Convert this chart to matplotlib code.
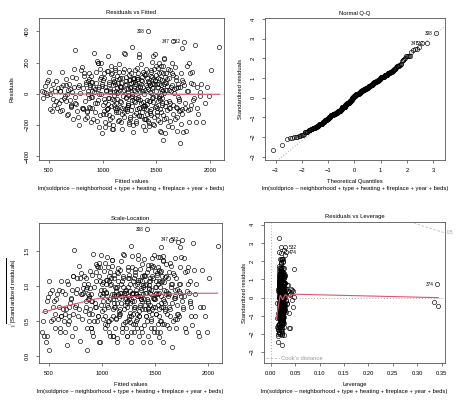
import numpy as np
import matplotlib.pyplot as plt
from statistics import NormalDist

plt.rcParams['font.family'] = ['Liberation Sans', 'DejaVu Sans']
plt.rcParams['mathtext.fontset'] = 'custom'
plt.rcParams['mathtext.rm'] = 'Liberation Sans'

# fitted values of the model (one row of 25 per line)
fitted = [
    438, 445, 452, 460, 470, 478, 485, 492, 500, 505, 512, 520, 528, 535, 540, 548, 555, 560, 568, 575, 582, 590, 598, 605, 615,
    602, 610, 618, 625, 633, 640, 648, 655, 662, 670, 678, 685, 693, 700, 708, 715, 722, 730, 738, 745, 752, 760, 770, 782, 795,
    655, 668, 680, 692, 705, 718, 730, 742, 755, 768, 780, 792, 805, 815, 825, 835, 845, 852, 860, 868, 875, 882, 890, 895, 900,
    805, 812, 820, 830, 838, 846, 855, 862, 870, 878, 886, 895, 903, 910, 918, 925, 932, 940, 948, 955, 962, 970, 978, 985, 995,
    852, 865, 876, 888, 898, 908, 918, 928, 938, 948, 958, 968, 978, 988, 998, 1005, 1012, 1020, 1028, 1035, 1042, 1048, 1052, 1056, 1060,
    952, 960, 972, 985, 995, 1002, 1010, 1018, 1025, 1032, 1040, 1050, 1058, 1065, 1072, 1080, 1088, 1095, 1102, 1110, 1118, 1125, 1132, 1140, 1148,
    1003, 1015, 1026, 1038, 1047, 1055, 1062, 1070, 1078, 1085, 1093, 1100, 1108, 1115, 1122, 1130, 1138, 1145, 1152, 1160, 1168, 1175, 1183, 1190, 1198,
    1052, 1064, 1076, 1088, 1098, 1108, 1118, 1128, 1136, 1144, 1152, 1160, 1168, 1176, 1184, 1192, 1200, 1208, 1216, 1224, 1232, 1238, 1244, 1248, 1252,
    1102, 1112, 1122, 1132, 1142, 1150, 1158, 1166, 1174, 1182, 1190, 1198, 1206, 1214, 1222, 1230, 1238, 1246, 1254, 1262, 1270, 1278, 1286, 1294, 1300,
    1202, 1208, 1214, 1220, 1226, 1232, 1238, 1244, 1250, 1256, 1262, 1268, 1274, 1280, 1286, 1292, 1298, 1304, 1310, 1316, 1322, 1328, 1334, 1340, 1346,
    1252, 1258, 1265, 1271, 1277, 1283, 1289, 1295, 1301, 1307, 1313, 1319, 1325, 1331, 1337, 1343, 1349, 1355, 1361, 1367, 1373, 1379, 1385, 1391, 1397,
    1302, 1308, 1315, 1322, 1328, 1335, 1341, 1348, 1355, 1362, 1368, 1375, 1382, 1388, 1395, 1402, 1408, 1415, 1421, 1425, 1432, 1438, 1444, 1448, 1450,
    1352, 1358, 1364, 1370, 1376, 1382, 1388, 1394, 1400, 1406, 1412, 1418, 1424, 1430, 1436, 1442, 1448, 1454, 1460, 1466, 1472, 1478, 1484, 1490, 1496,
    1402, 1409, 1416, 1423, 1430, 1437, 1444, 1451, 1458, 1465, 1472, 1479, 1486, 1493, 1500, 1507, 1514, 1521, 1528, 1535, 1540, 1545, 1548, 1550, 1553,
    1452, 1458, 1464, 1470, 1476, 1482, 1488, 1494, 1500, 1506, 1512, 1518, 1524, 1530, 1536, 1542, 1548, 1554, 1560, 1566, 1572, 1578, 1584, 1590, 1596,
    1503, 1510, 1517, 1524, 1531, 1538, 1545, 1552, 1559, 1566, 1573, 1580, 1587, 1594, 1601, 1608, 1615, 1622, 1629, 1636, 1643, 1650, 1655, 1645, 1620,
    1552, 1560, 1568, 1576, 1584, 1592, 1600, 1608, 1616, 1624, 1632, 1640, 1648, 1656, 1664, 1672, 1680, 1688, 1696, 1704, 1712, 1720, 1728, 1736, 1744,
    1652, 1660, 1668, 1676, 1684, 1692, 1700, 1708, 1716, 1724, 1732, 1740, 1748, 1755, 1762, 1770, 1778, 1786, 1794, 1802, 1810, 1818, 1826, 1834, 1842,
    1705, 1722, 1738, 1752, 1768, 1785, 1800, 1815, 1828, 1840, 1852, 1860, 1868, 1876, 1890, 1905, 1920, 1940, 1955, 1970, 1990, 2010, 1912, 2090, 1880,
    905, 1012, 1165, 1235, 1318, 1372, 1456, 1512, 1588, 1632, 1688, 945, 1090, 1198, 1286, 1342, 1398, 1470, 1532, 1575, 1690, 1110, 1260, 1430, 1540,
]

# raw residuals, same order
resid = [
    15, -30, 10, 50, 5, 75, -10, 85, 140, 1, -100, 30, -110, 60, -35, -75, 20, -45, 80, -95, 35, -60, -110, 15, 40,
    20, -40, 140, -105, 55, -30, -15, 95, 55, -140, 25, 60, -40, -70, -80, 110, -160, 45, 280, -20, -65, -110, 40, -200, 150,
    -45, -3, -130, 30, -85, 10, 160, -60, 100, -150, 55, 6, 170, -95, 115, -160, 60, -110, 20, 130, -85, 45, -180, 75, -20,
    -95, 35, -100, 130, -50, 75, -120, -1, 95, -90, 55, -20, 75, -165, 260, 30, -60, 140, -175, 200, 40, -215, 95, 195, -255,
    -150, 80, -30, 115, -95, 45, 10, -120, 70, -60, 195, -5, -140, 110, 50, -75, 135, -180, 25, -130, -100, 145, 245, -30, -195,
    30, -40, 160, -5, 65, -130, 100, -55, -215, 20, 145, -90, 60, -160, 10, 125, -35, -200, 80, -70, 150, -120, 35, -175, 95,
    90, -110, 40, -100, -25, 75, -140, 15, -80, 130, -230, 55, -10, 165, -60, 115, 5, -120, 190, -45, -185, 70, -90, 140, 25,
    -65, 30, 175, -150, 95, -40, 60, -105, -90, 8, 140, -85, 45, -225, 100, -15, -150, 255, 65, -110, 30, -60, 150, -195, 85,
    10, -95, 20, -35, 70, -170, 40, 100, -55, -130, 20, 160, -100, 80, -20, -100, -75, 120, -165, 45, 302, -40, 95, -140, 60,
    -120, 55, 105, -30, -85, -70, 10, -185, 90, 40, -105, 130, -15, -200, 75, 100, -55, 15, -125, 165, 95, -35, 130, -90, 50,
    35, -150, 70, -5, -80, 100, 25, -45, 150, -175, 60, -100, 95, -20, 255, -135, 40, -60, 190, 80, -210, 15, -95, 120, -160,
    75, -25, -190, 30, 45, -90, -145, 10, -145, 65, 110, -55, -160, 125, 25, -100, 160, -40, 80, 400, -190, 55, -125, 140, 5,
    -40, 90, -115, 20, 140, -75, -5, -80, -165, 55, -130, 100, 30, -205, 70, -50, 115, -100, 205, -20, 45, -150, 85, 255, -80,
    125, -65, 40, -175, 75, 10, -110, 150, -30, 95, -195, 60, -85, 20, 180, -140, 100, -15, 130, -100, 55, -245, 175, 15, -60,
    -140, 110, 35, -55, 160, -200, 80, -15, 120, -95, 45, -170, 195, 65, -40, 140, -120, 90, -295, 25, 225, -80, 110, -155, 50,
    60, -120, 165, -25, 95, -185, 30, -70, 180, -140, 5, -250, 135, 70, -105, 160, -45, 100, -175, 20, -215, 130, 336, 55, -90,
    -30, 135, -160, 60, 75, -55, 95, -210, 25, 150, -95, 40, 200, -130, 2, 170, -85, 110, -150, 65, -35, -320, 130, -100, 90,
    120, -70, 30, -165, 85, -90, -20, -110, -45, 40, -195, 295, -245, 335, 55, -90, -240, 175, 15, -180, 195, -100, 70, 140, -40,
    45, -105, -130, 75, -60, 20, -105, 130, -75, 60, -25, 315, -185, 40, -130, -15, 60, -185, -60, 40, -15, 150, 10, 300, -95,
    15, -35, 50, -10, 110, -80, 65, -45, 25, -60, 35, 210, -230, 260, -248, 235, -232, 240, -242, 230, -238, 73, -24, -48, -9,
]

# hat values (leverage) in thousandths, same order
leverage = [
    28, 22, 19, 31, 25, 17, 23, 35, 21, 18, 26, 30, 20, 24, 13, 29, 22, 19, 33, 25, 21, 27, 18, 23, 30,
    20, 26, 27, 24, 31, 22, 19, 28, 23, 12, 25, 21, 34, 18, 27, 22, 20, 15, 29, 24, 19, 26, 23, 21, 26,
    24, 18, 27, 21, 16, 30, 23, 19, 25, 22, 41, 20, 26, 28, 24, 21, 19, 26, 23, 25, 30, 22, 18, 25, 20,
    19, 25, 22, 27, 28, 21, 24, 18, 30, 23, 16, 26, 20, 22, 19, 27, 45, 21, 25, 18, 23, 14, 29, 28, 15,
    22, 18, 26, 20, 31, 24, 17, 23, 19, 28, 21, 25, 16, 22, 27, 20, 18, 24, 29, 21, 38, 29, 25, 23, 19,
    26, 21, 26, 24, 19, 23, 28, 20, 16, 25, 22, 18, 27, 21, 24, 19, 33, 14, 17, 26, 20, 23, 42, 18, 25,
    17, 23, 20, 26, 19, 24, 18, 30, 22, 27, 16, 21, 27, 19, 23, 20, 24, 24, 48, 22, 15, 17, 21, 28, 23,
    21, 26, 18, 23, 19, 25, 22, 14, 28, 20, 24, 18, 26, 22, 19, 31, 21, 25, 25, 23, 20, 27, 18, 24, 22,
    24, 19, 22, 27, 17, 23, 20, 25, 18, 26, 21, 28, 24, 28, 20, 23, 19, 25, 22, 36, 18, 21, 27, 20, 23,
    18, 24, 21, 17, 26, 22, 19, 23, 27, 20, 25, 18, 22, 13, 24, 21, 29, 19, 23, 20, 26, 17, 22, 24, 44,
    22, 19, 25, 20, 23, 17, 27, 21, 24, 18, 22, 26, 20, 19, 23, 25, 17, 28, 21, 24, 15, 40, 22, 18, 26,
    20, 24, 18, 22, 27, 19, 23, 21, 25, 17, 22, 20, 26, 24, 18, 23, 21, 29, 19, 17, 22, 25, 20, 23, 47,
    23, 18, 25, 21, 19, 24, 20, 27, 22, 14, 26, 21, 23, 37, 25, 20, 22, 18, 24, 31, 21, 26, 19, 23, 20,
    19, 25, 22, 18, 24, 20, 26, 21, 23, 17, 28, 22, 19, 25, 21, 24, 18, 43, 22, 20, 26, 23, 19, 21, 25,
    24, 20, 23, 26, 18, 40, 25, 19, 21, 24, 17, 27, 20, 23, 22, 19, 25, 21, 15, 24, 22, 20, 18, 26, 23,
    21, 25, 19, 23, 22, 18, 26, 20, 24, 22, 19, 28, 21, 23, 17, 25, 20, 22, 24, 39, 21, 19, 22, 23, 20,
    25, 20, 23, 18, 22, 26, 21, 24, 19, 23, 20, 46, 22, 25, 19, 21, 24, 18, 23, 20, 22, 24, 19, 24, 21,
    20, 23, 25, 19, 22, 24, 21, 26, 18, 23, 20, 22, 15, 30, 21, 24, 16, 23, 20, 22, 26, 21, 24, 19, 23,
    22, 24, 20, 26, 23, 21, 25, 19, 22, 24, 20, 28, 23, 21, 25, 22, 19, 24, 27, 21, 23, 29, 25, 32, 22,
    24, 19, 22, 26, 21, 23, 25, 20, 22, 24, 19, 18, 16, 22, 24, 21, 23, 25, 20, 22, 24, 340, 335, 343, 21,
]

# observation numbers of the cases R labels
case_ids = {294: '308', 397: '347', 438: '532', 496: '374'}
n_coef = 14
caption = 'lm(soldprice ~ neighborhood + type + heating + fireplace + year + beds)'

W, H = 464, 405
RED = '#DF536B'
GREY = '#BEBEBE'
FS = 4.2


def lowess(x, y, f=2/3, it=3):
    o = np.argsort(x)
    x, y = x[o], y[o]
    n = len(x)
    r = int(np.ceil(f * n))
    rob = np.ones(n)
    fit = np.zeros(n)
    for _ in range(it + 1):
        for i in range(n):
            d = np.abs(x - x[i])
            h = max(np.sort(d)[r - 1], 1e-12)
            w = np.clip(d / h, 0, 1)
            w = (1 - w ** 3) ** 3 * rob
            sw = w.sum()
            xm = (w * x).sum() / sw
            ym = (w * y).sum() / sw
            sxx = (w * (x - xm) ** 2).sum()
            b = (w * (x - xm) * (y - ym)).sum() / sxx if sxx > 1e-12 else 0
            fit[i] = ym + b * (x[i] - xm)
        res = y - fit
        s = np.median(np.abs(res))
        u = np.clip(res / (6 * s), -1, 1)
        rob = (1 - u ** 2) ** 2
    return x, fit


m = min(len(fitted), len(resid), len(leverage))
yhat = np.array(fitted[:m], float)
r = np.array(resid[:m], float)
hii = np.array(leverage[:m], float) / 1000
labels = [case_ids.get(i, str(i + 1)) for i in range(m)]

sigma = np.sqrt((r ** 2).sum() / (m - n_coef))
rs = r / (sigma * np.sqrt(1 - hii))
cook = rs ** 2 * hii / (n_coef * (1 - hii))

fig = plt.figure(figsize=(W / 100, H / 100), dpi=100)


def add_panel(box):
    l, t, rr, b = box
    return fig.add_axes([l / W, 1 - b / H, (rr - l) / W, (b - t) / H])


def style(ax, xlim, ylim, xt, yt, xfmt=None, yfmt=None):
    ax.set_xlim(xlim)
    ax.set_ylim(ylim)
    ax.set_xticks(xt)
    ax.set_yticks(yt)
    if xfmt:
        ax.set_xticklabels([xfmt.format(v) for v in xt])
    if yfmt:
        ax.set_yticklabels([yfmt.format(v) for v in yt])
    ax.tick_params(direction='out', length=2.4, width=0.5, labelsize=FS, color='#444444')
    ax.tick_params(axis='x', pad=3.2)
    ax.tick_params(axis='y', pad=4.5, labelrotation=90)
    plt.setp(ax.get_yticklabels(), va='center')
    for s in ax.spines.values():
        s.set_linewidth(0.6)
        s.set_color('#555555')


def texts(box, title, xlab, ylab, ylab_x):
    l, t, rr, b = box
    cx = (l + rr) / 2 / W
    fig.text(cx, 1 - (t - 5) / H, title, ha='center', va='center', fontsize=FS)
    fig.text(cx, 1 - (b + 21.5) / H, xlab, ha='center', va='center', fontsize=FS)
    fig.text(cx, 1 - (b + 28.3) / H, caption, ha='center', va='center', fontsize=FS)
    fig.text(ylab_x / W, 1 - (t + b) / 2 / H, ylab, ha='center', va='center', fontsize=FS, rotation=90)


def pts(ax, x, y):
    ax.plot(x, y, 'o', ms=3.0, mfc='none', mec='black', mew=0.45, ls='none')


def tag(ax, x, y, s, right):
    ax.annotate(s, (x, y), xytext=(2.2 if right else -2.2, 0), textcoords='offset points',
                ha='left' if right else 'right', va='center', fontsize=3.4, annotation_clip=False)


# Residuals vs Fitted
box1 = (39, 18, 224, 160)
ax1 = add_panel(box1)
style(ax1, (406, 2132), (-426, 486), [500, 1000, 1500, 2000], [-400, -200, 0, 200, 400])
ax1.axhline(0, color='#aaaaaa', ls=(0, (1, 2)), lw=0.7)
pts(ax1, yhat, r)
sx, sy = lowess(yhat, r)
ax1.plot(sx, sy, color=RED, lw=0.8)
for i in np.argsort(-np.abs(r))[:3]:
    tag(ax1, yhat[i], r[i], labels[i], yhat[i] < (yhat.min() + yhat.max()) / 2)
texts(box1, 'Residuals vs Fitted', 'Fitted values', 'Residuals', 12)

# Normal Q-Q
box2 = (265, 18, 445, 160)
ax2 = add_panel(box2)
style(ax2, (-3.4, 3.45), (-3.17, 4.05), [-3, -2, -1, 0, 1, 2, 3], [-3, -2, -1, 0, 1, 2, 3, 4])
nd = NormalDist()
order = np.argsort(rs)
theo = np.array([nd.inv_cdf((k + 0.5) / m) for k in range(m)])
qx = np.empty(m)
qx[order] = theo
q1, q3 = np.percentile(rs, [25, 75])
t1, t3 = nd.inv_cdf(0.25), nd.inv_cdf(0.75)
slope = (q3 - q1) / (t3 - t1)
icpt = q1 - slope * t1
lx = np.array([-4, 4])
ax2.plot(lx, icpt + slope * lx, color='#aaaaaa', ls=(0, (1, 2)), lw=0.7)
pts(ax2, qx, rs)
for i in np.argsort(-np.abs(rs))[:3]:
    tag(ax2, qx[i], rs[i], labels[i], qx[i] < 0)
texts(box2, 'Normal Q-Q', 'Theoretical Quantiles', 'Standardized residuals', 240)

# Scale-Location
box3 = (39, 223, 222, 363)
ax3 = add_panel(box3)
sq = np.sqrt(np.abs(rs))
style(ax3, (406, 2132), (-0.095, 1.90), [500, 1000, 1500, 2000], [0, 0.5, 1.0, 1.5], yfmt='{:.1f}')
pts(ax3, yhat, sq)
sx, sy = lowess(yhat, sq)
ax3.plot(sx, sy, color=RED, lw=0.8)
for i in np.argsort(-np.abs(rs))[:3]:
    tag(ax3, yhat[i], sq[i], labels[i], yhat[i] < (yhat.min() + yhat.max()) / 2)
texts(box3, 'Scale-Location', 'Fitted values', r'$\sqrt{|\mathrm{Standardized\ residuals}|}$', 12)

# Residuals vs Leverage
box4 = (264, 222, 445, 363)
ax4 = add_panel(box4)
xl = (-0.0137, 0.3567)
style(ax4, xl, (-3.6, 4.15), [0, 0.05, 0.10, 0.15, 0.20, 0.25, 0.30, 0.35], [-3, -2, -1, 0, 1, 2, 3, 4], xfmt='{:.2f}')
ax4.axhline(0, color='#aaaaaa', ls=(0, (1, 2)), lw=0.7)
ax4.axvline(0, color='#aaaaaa', ls=(0, (1, 2)), lw=0.7)
pts(ax4, hii, rs)
sx, sy = lowess(hii, rs)
ax4.plot(sx, sy, color=RED, lw=0.8)
hh = np.linspace(0.002, xl[1], 101)
for crit in (0.5, 1.0):
    cl = np.sqrt(crit * n_coef * (1 - hh) / hh)
    ax4.plot(hh, cl, color=GREY, ls=(0, (3, 2)), lw=0.6)
    ax4.plot(hh, -cl, color=GREY, ls=(0, (3, 2)), lw=0.6, label="Cook's distance" if crit == 0.5 else None)
aty = np.sqrt(0.5 * n_coef * (1 - xl[1]) / xl[1])
ax4.text(xl[1] + 0.003, aty, '0.5', fontsize=3.4, color='#999999', ha='left', va='center', clip_on=False)
ax4.legend(loc='lower left', frameon=False, fontsize=FS, handlelength=2.2, borderaxespad=0.1,
           borderpad=0.2, handletextpad=0.4, labelcolor='#999999')
for i in np.argsort(-cook)[:3]:
    tag(ax4, hii[i], rs[i], labels[i], hii[i] < np.mean(xl))
texts(box4, 'Residuals vs Leverage', 'Leverage', 'Standardized residuals', 245)

fig.savefig('out.png', dpi=100)
